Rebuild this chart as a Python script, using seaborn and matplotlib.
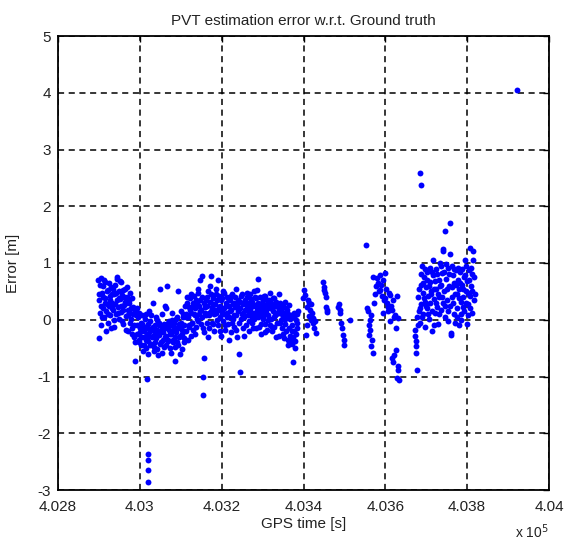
import matplotlib
matplotlib.use("Agg")
import matplotlib.pyplot as plt
import numpy as np
import pandas as pd
import seaborn as sns
from matplotlib.ticker import FixedLocator, FixedFormatter

# ---- PVT error samples: GPS time [s] and position error [m] ----
seg_a_time = [402898, 402900, 402901, 402903, 402905, 402907, 402909, 402910, 402912, 402914,
              402916, 402918, 402919, 402921, 402923, 402925, 402927, 402928, 402930, 402932,
              402934, 402936, 402937, 402939, 402941, 402943, 402945, 402946, 402948, 402950,
              402952, 402954, 402955, 402957, 402959, 402961, 402963, 402964, 402966, 402968,
              402970, 402972, 402973, 402975, 402977, 402979, 402981, 402982, 402984, 402986,
              402988, 402990]
seg_a_err = [0.70, -0.32, 0.35, 0.12, 0.74, 0.48, 0.20, 0.60, 0.05, 0.38,
             0.66, 0.15, 0.28, -0.05, 0.52, 0.24, 0.42, 0.08, 0.58, 0.30,
             0.18, -0.12, 0.45, 0.62, 0.10, 0.34, 0.72, 0.22, 0.50, 0.02,
             0.36, 0.66, 0.14, 0.44, -0.08, 0.26, 0.55, 0.32, 0.06, 0.40,
             0.18, -0.20, 0.30, 0.48, 0.12, 0.02, 0.38, -0.15, 0.22, -0.30,
             -0.72, 0.08]

seg_b_time = [402992, 402994, 402995, 402997, 402999, 403001, 403003, 403004, 403006, 403008,
              403010, 403012, 403013, 403015, 403017, 403019, 403021, 403022, 403024, 403026,
              403028, 403030, 403031, 403033, 403035, 403037, 403039, 403040, 403042, 403044,
              403046, 403048, 403049, 403051, 403053, 403055, 403057, 403058, 403060, 403062,
              403064, 403066, 403067, 403069, 403071, 403073, 403075, 403076, 403078, 403080,
              403082, 403084, 403085, 403087, 403089, 403091, 403093, 403094, 403096, 403098,
              403100, 403102, 403103, 403105, 403107, 403109]
seg_b_err = [0.20, -0.10, 0.05, -0.35, 0.12, -0.22, -0.05, -0.45, 0.08, -0.18,
             -0.30, 0.02, -0.12, -0.50, -0.25, -0.08, -0.38, 0.15, -0.20, -0.02,
             -0.42, -0.15, 0.30, -0.28, -0.55, -0.10, 0.05, -0.32, -0.18, -0.62,
             -0.05, -0.26, 0.55, -0.40, -0.12, 0.10, -0.22, -0.48, -0.08, -0.30,
             0.20, -0.15, 0.60, -0.35, -0.02, -0.25, -0.58, -0.10, 0.12, -0.40,
             -0.20, -0.05, -0.72, -0.30, 0.02, -0.15, 0.50, -0.45, -0.08, -0.28,
             0.15, -0.18, -0.52, 0.05, -0.32, -0.10]

seg_c_time = [403111, 403114, 403116, 403119, 403122, 403124, 403127, 403130, 403132, 403135,
              403138, 403140, 403143, 403146, 403148, 403151, 403154, 403156, 403159, 403162,
              403164, 403167, 403170, 403172, 403175, 403178, 403180, 403183, 403186, 403188,
              403191, 403194, 403196, 403199, 403202, 403204, 403207, 403210, 403212, 403215,
              403218, 403220, 403223, 403226, 403228, 403231, 403234, 403236, 403239, 403242,
              403244, 403247, 403250, 403252, 403255, 403258, 403260, 403263, 403266, 403268,
              403271, 403274, 403276, 403279, 403282, 403284, 403287, 403290, 403292, 403295,
              403298, 403300, 403303, 403306, 403308, 403311, 403314, 403316, 403319, 403322,
              403324, 403327, 403330, 403332, 403335, 403338, 403340, 403343, 403346, 403348,
              403351, 403354, 403356, 403359, 403362, 403364, 403367, 403370, 403372, 403375,
              403378, 403380, 403383, 403386]
seg_c_err = [0.25, 0.05, 0.40, -0.12, 0.18, 0.45, -0.05, 0.30, 0.10, -0.25,
             0.35, 0.02, 0.55, 0.70, 0.15, 0.77, -0.15, -0.67, 0.22, 0.08,
             0.40, -0.30, 0.12, 0.60, 0.77, 0.28, -0.08, 0.18, 0.45, 0.00,
             0.70, 0.22, -0.20, 0.35, 0.10, 0.50, -0.10, 0.25, 0.05, 0.38,
             -0.35, 0.15, 0.42, -0.05, 0.28, 0.08, 0.55, -0.18, 0.20, -0.60,
             0.32, 0.02, 0.45, 0.12, -0.28, 0.30, 0.18, 0.48, -0.02, 0.22,
             0.36, 0.05, -0.15, 0.26, 0.40, 0.10, 0.52, 0.72, 0.15, -0.08,
             0.30, 0.05, 0.42, -0.22, 0.18, 0.35, 0.00, 0.25, 0.48, -0.12,
             0.20, 0.38, 0.08, -0.30, 0.28, 0.14, 0.45, -0.05, 0.22, 0.10,
             -0.25, 0.32, 0.02, 0.18, -0.45, 0.26, 0.05, -0.38, -0.20, -0.74,
             0.12, -0.50, -0.05, 0.15]

seg_d_time = [403399, 403401, 403404, 403406, 403408, 403409, 403411, 403413, 403414, 403416,
              403418, 403419, 403421, 403423, 403424, 403426, 403428, 403430]
seg_d_err = [0.38, 0.53, 0.44, -0.26, 0.23, -0.09, 0.35, 0.06, 0.30, 0.18,
             0.00, 0.27, 0.12, -0.06, 0.03, -0.15, -0.03, -0.24]

seg_e_time = [403447, 403449, 403450, 403452, 403454, 403455, 403457, 403458]
seg_e_err = [0.67, 0.58, 0.53, 0.47, 0.40, 0.23, 0.18, 0.14]

seg_f_time = [403485, 403487, 403489, 403490, 403492, 403494, 403496, 403498, 403500, 403513]
seg_f_err = [0.23, 0.28, 0.18, 0.12, -0.06, -0.15, -0.26, -0.35, -0.44, 0.00]

seg_h_time = [403553, 403556, 403558, 403559, 403560, 403562, 403563, 403564, 403566, 403568,
              403569, 403570, 403572, 403575, 403578, 403580, 403582, 403584, 403587, 403588,
              403590, 403592, 403594, 403595, 403597, 403599, 403600, 403602, 403604, 403606,
              403607, 403609, 403611, 403612, 403614, 403616, 403617, 403618, 403619, 403620,
              403622, 403624, 403625, 403627, 403628, 403629, 403630, 403631, 403632, 403634]
seg_h_err = [1.31, 0.21, 0.15, -0.09, -0.26, 0.00, -0.18, -0.47, 0.09, -0.35,
             -0.59, 0.76, 0.30, 0.45, 0.60, 0.73, 0.65, 0.50, 0.79, 0.53,
             0.62, 0.41, 0.12, 0.70, 0.35, 0.82, 0.38, 0.55, 0.29, 0.22,
             0.15, 0.48, 0.44, -0.03, 0.25, 0.18, -0.68, 0.35, -0.74, 0.05,
             -0.62, 0.09, -0.53, -0.15, 0.41, -1.03, -0.82, 0.03, -0.88, -1.06]

seg_i_time = [403672, 403673, 403674, 403675, 403676, 403677, 403678, 403679,
              403681, 403683, 403684, 403686, 403688, 403689, 403691, 403693, 403695, 403696,
              403698, 403700, 403702, 403703, 403705, 403707, 403709, 403710, 403712, 403714,
              403716, 403717, 403719, 403721, 403723, 403724, 403726, 403728, 403730, 403731,
              403733, 403735, 403737, 403738, 403740, 403741, 403742, 403744, 403745, 403746,
              403748, 403750, 403752, 403753, 403755, 403757, 403758, 403759, 403760, 403761,
              403763, 403765, 403767, 403769, 403771, 403772, 403774, 403776, 403778, 403779,
              403781, 403783, 403785, 403786, 403788, 403790, 403792, 403793, 403795, 403797,
              403799, 403800, 403802, 403804, 403806, 403807, 403809, 403811, 403812, 403814,
              403815, 403816]
seg_i_err = [-0.18, -0.29, -0.38, -0.47, -0.59, -0.88, 0.05, -0.10,
             0.40, 0.15, -0.05, 0.62, 0.28, 0.94, 0.48, 0.10, 0.75, 0.32,
             -0.12, 0.58, 0.20, 0.85, 0.42, 0.02, 0.66, 0.30, 0.50, -0.20,
             0.78, 1.06, 0.36, 0.12, 0.90, 0.55, 0.22, -0.08, 0.70, 0.40,
             1.00, 0.62, 0.18, 0.82, 0.30, 1.25, 1.22, 0.50, 0.05, 1.56,
             0.72, 0.35, 0.92, -0.02, 0.60, 0.25, 1.70, 1.15, -0.23, -0.26,
             0.40, 0.78, 0.10, 0.65, -0.05, 0.88, 0.45, 0.20, 0.70, -0.10,
             0.55, 0.85, 0.32, 0.00, 0.62, 0.40, 0.75, 0.15, 1.06, 0.50,
             -0.08, 0.68, 0.28, 0.88, 0.42, 1.27, 0.60, 0.12, 0.80, 1.06,
             1.21, 0.35]

# in-between epochs of the dense stretches, as (time, error) pairs
extra_a = [(402899, 0.45), (402902, 0.62), (402904, -0.10), (402906, 0.25), (402908, 0.05),
           (402911, 0.40), (402913, 0.70), (402915, 0.30), (402917, -0.20), (402920, 0.50),
           (402922, 0.10), (402924, 0.65), (402926, 0.35), (402929, -0.15), (402931, 0.45),
           (402933, 0.20), (402935, 0.55), (402938, 0.00), (402940, 0.28), (402942, 0.48),
           (402944, 0.75), (402947, 0.12), (402949, 0.38), (402951, 0.68), (402953, 0.25),
           (402956, -0.02), (402958, 0.52), (402960, 0.18), (402962, 0.40), (402965, -0.18),
           (402967, 0.30), (402969, 0.58), (402971, 0.08), (402974, 0.35), (402976, -0.05),
           (402978, 0.20), (402980, -0.25), (402983, 0.10), (402985, -0.10), (402987, 0.15),
           (402989, -0.40)]
extra_b = [(402993, -0.25), (402996, 0.10), (402998, -0.40), (403000, -0.15), (403002, -0.30),
           (403005, -0.08), (403007, -0.55), (403009, -0.20), (403011, -0.45), (403014, 0.10),
           (403016, -0.35), (403018, -0.15), (403020, -0.60), (403023, -0.28), (403025, -0.45),
           (403027, 0.08), (403029, -0.30), (403032, -0.12), (403034, -0.48), (403036, -0.22),
           (403038, -0.40), (403041, 0.00), (403043, -0.52), (403045, -0.25), (403047, -0.10),
           (403050, -0.42), (403052, -0.20), (403054, -0.58), (403056, -0.35), (403059, -0.15),
           (403061, 0.25), (403063, -0.45), (403065, -0.28), (403068, -0.05), (403070, -0.38),
           (403072, -0.18), (403074, -0.50), (403077, -0.25), (403079, 0.00), (403081, -0.35),
           (403083, -0.12), (403086, -0.48), (403088, -0.22), (403090, -0.40), (403092, 0.05),
           (403095, -0.30), (403097, -0.15), (403099, -0.60), (403101, -0.05), (403104, -0.25),
           (403106, 0.10), (403108, -0.40)]
extra_c = [(403112, 0.10), (403113, -0.20), (403115, 0.30), (403117, -0.35), (403118, 0.05),
           (403120, 0.22), (403121, -0.10), (403123, 0.38), (403125, -0.28), (403126, 0.12),
           (403128, -0.05), (403129, 0.25), (403131, -0.18), (403133, 0.42), (403134, 0.08),
           (403136, 0.20), (403137, -0.12), (403139, 0.30), (403141, 0.48), (403142, -0.02),
           (403144, 0.25), (403145, 0.10), (403147, 0.35), (403149, -0.08), (403150, 0.18),
           (403152, 0.40), (403153, 0.05), (403157, 0.30), (403158, -0.22), (403160, 0.12),
           (403161, 0.35), (403163, -0.05), (403165, 0.25), (403166, 0.50), (403168, 0.08),
           (403169, -0.15), (403171, 0.32), (403173, 0.15), (403174, 0.45), (403176, -0.05),
           (403177, 0.22), (403179, 0.38), (403181, 0.10), (403182, -0.20), (403184, 0.28),
           (403185, 0.55), (403187, 0.12), (403189, 0.35), (403190, -0.10), (403192, 0.18),
           (403193, 0.42), (403195, 0.05), (403197, 0.25), (403198, -0.28), (403200, 0.15),
           (403201, 0.38), (403203, -0.02), (403205, 0.20), (403206, 0.48), (403208, 0.10),
           (403209, -0.18), (403211, 0.30), (403213, 0.12), (403214, 0.40), (403216, -0.08),
           (403217, 0.25), (403219, 0.05), (403221, 0.35), (403222, -0.22), (403224, 0.18),
           (403225, 0.45), (403227, 0.02), (403229, 0.30), (403230, -0.12), (403232, 0.22),
           (403233, 0.40), (403235, 0.08), (403237, 0.28), (403238, -0.30), (403240, 0.15),
           (403241, 0.35), (403243, -0.05), (403246, 0.20), (403248, 0.42), (403249, 0.10),
           (403251, -0.15), (403253, 0.28), (403254, 0.05), (403256, 0.35), (403257, 0.18),
           (403259, -0.10), (403261, 0.25), (403262, 0.40), (403264, 0.08), (403265, 0.30),
           (403267, -0.20), (403269, 0.15), (403270, 0.45), (403272, 0.22), (403273, -0.05),
           (403275, 0.32), (403277, 0.12), (403278, 0.50), (403280, 0.02), (403281, 0.25),
           (403283, -0.15), (403285, 0.38), (403286, 0.18), (403288, 0.05), (403289, 0.30),
           (403291, -0.12), (403293, 0.22), (403294, 0.40), (403296, 0.10), (403297, -0.25),
           (403299, 0.18), (403301, 0.35), (403302, 0.02), (403304, 0.25), (403305, -0.08),
           (403307, 0.42), (403309, 0.12), (403310, -0.18), (403312, 0.28), (403313, 0.08),
           (403315, 0.35), (403317, -0.10), (403318, 0.20), (403320, 0.30), (403321, 0.02),
           (403323, -0.20), (403325, 0.15), (403326, 0.38), (403328, 0.05), (403329, -0.12),
           (403331, 0.25), (403333, 0.10), (403334, 0.32), (403336, -0.05), (403337, 0.22),
           (403339, -0.28), (403341, 0.12), (403342, 0.30), (403344, 0.00), (403345, 0.18),
           (403347, -0.15), (403349, 0.25), (403350, 0.05), (403352, -0.32), (403353, 0.12),
           (403355, -0.08), (403357, 0.20), (403358, -0.20), (403360, 0.05), (403361, -0.35),
           (403363, 0.10), (403365, -0.15), (403366, 0.02), (403368, -0.28), (403369, 0.08),
           (403371, -0.42), (403373, -0.10), (403374, -0.30), (403376, 0.05), (403377, -0.20),
           (403379, -0.38), (403381, 0.00), (403382, -0.25), (403384, 0.10), (403385, -0.15)]
extra_i = [(403682, 0.55), (403685, 0.20), (403687, 0.80), (403690, 0.05), (403692, 0.65),
           (403694, 0.38), (403697, 0.90), (403699, 0.25), (403701, 0.70), (403704, 0.10),
           (403706, 0.60), (403708, 0.92), (403711, 0.45), (403713, 0.15), (403715, 0.85),
           (403718, 0.55), (403720, -0.10), (403722, 0.68), (403725, 0.30), (403727, 0.80),
           (403729, 0.45), (403732, 0.10), (403734, 0.60), (403736, 0.95), (403739, 0.40),
           (403743, 0.85), (403747, 0.25), (403749, 0.98), (403751, 0.55), (403754, 0.15),
           (403756, 0.80), (403762, 0.58), (403764, 0.95), (403766, 0.30), (403768, 0.90),
           (403770, 0.45), (403773, 0.62), (403775, 0.05), (403777, 0.92), (403780, 0.38),
           (403782, 0.65), (403784, 0.10), (403787, 0.90), (403789, 0.22), (403791, 0.55),
           (403794, 0.78), (403796, 0.30), (403798, 0.95), (403801, 0.48), (403803, 0.08),
           (403805, 0.70), (403808, 0.20), (403810, 0.92), (403813, 0.50), (403817, 0.75),
           (403818, 0.45)]

# isolated large errors
outlier_time = [403017, 403019, 403020, 403020, 403021, 403154, 403155, 403245,
                403685, 403686, 403921]
outlier_err = [-1.04, -2.36, -2.47, -2.64, -2.86, -1.00, -1.33, -0.92,
               2.58, 2.38, 4.05]

x_ticks = [4.028, 4.030, 4.032, 4.034, 4.036, 4.038, 4.040]
x_tick_labels = ["4.028", "4.03", "4.032", "4.034", "4.036", "4.038", "4.04"]
y_ticks = [-3, -2, -1, 0, 1, 2, 3, 4, 5]
y_tick_labels = ["-3", "-2", "-1", "0", "1", "2", "3", "4", "5"]

segments = [(seg_a_time, seg_a_err), (seg_b_time, seg_b_err), (seg_c_time, seg_c_err),
            (seg_d_time, seg_d_err), (seg_e_time, seg_e_err), (seg_f_time, seg_f_err),
            (seg_h_time, seg_h_err), (seg_i_time, seg_i_err), (outlier_time, outlier_err)]
for pairs in (extra_a, extra_b, extra_c, extra_i):
    segments.append(([p[0] for p in pairs], [p[1] for p in pairs]))
df = pd.concat([pd.DataFrame({"time": t, "err": e}) for t, e in segments], ignore_index=True)
df["time_e5"] = df["time"] / 1e5

sns.set_theme(style="white")
plt.rcParams["font.family"] = ["Liberation Sans", "DejaVu Sans"]
plt.rcParams["axes.unicode_minus"] = False

fig = plt.figure(figsize=(5.65, 5.44), dpi=100)
ax = fig.add_axes([58 / 565, 1 - 490 / 544, 491 / 565, 454 / 544])

sns.scatterplot(data=df, x="time_e5", y="err", ax=ax, color="#0000ff",
                s=18, linewidth=0, marker="o", zorder=3, legend=False)

ax.set_xlim(4.028, 4.040)
ax.set_ylim(-3, 5)
ax.xaxis.set_major_locator(FixedLocator(x_ticks))
ax.xaxis.set_major_formatter(FixedFormatter(x_tick_labels))
ax.yaxis.set_major_locator(FixedLocator(y_ticks))
ax.yaxis.set_major_formatter(FixedFormatter(y_tick_labels))

ax.set_axisbelow(True)
ax.grid(True, color="black", linestyle=(0, (4, 3)), linewidth=1.1)
for sp in ax.spines.values():
    sp.set_color("black")
    sp.set_linewidth(1.3)
ax.tick_params(axis="both", direction="in", length=4, width=1.0, color="black",
               top=True, right=True, labelsize=11, labelcolor="#222222")
ax.tick_params(axis="x", pad=7)
ax.tick_params(axis="y", pad=5)

ax.set_title("PVT estimation error w.r.t. Ground truth", fontsize=11, color="#222222", pad=8)
ax.set_xlabel("GPS time [s]", fontsize=11, color="#222222")
ax.set_ylabel("Error [m]", fontsize=11, color="#222222")
ax.xaxis.set_label_coords(0.5, -0.06)
ax.yaxis.set_label_coords(-0.078, 0.5)

fig.text(515 / 565, 3 / 544, r"x 10$^{5}$", fontsize=10, color="#222222",
         ha="left", va="bottom")

fig.savefig("out.png", dpi=100, facecolor="white")
